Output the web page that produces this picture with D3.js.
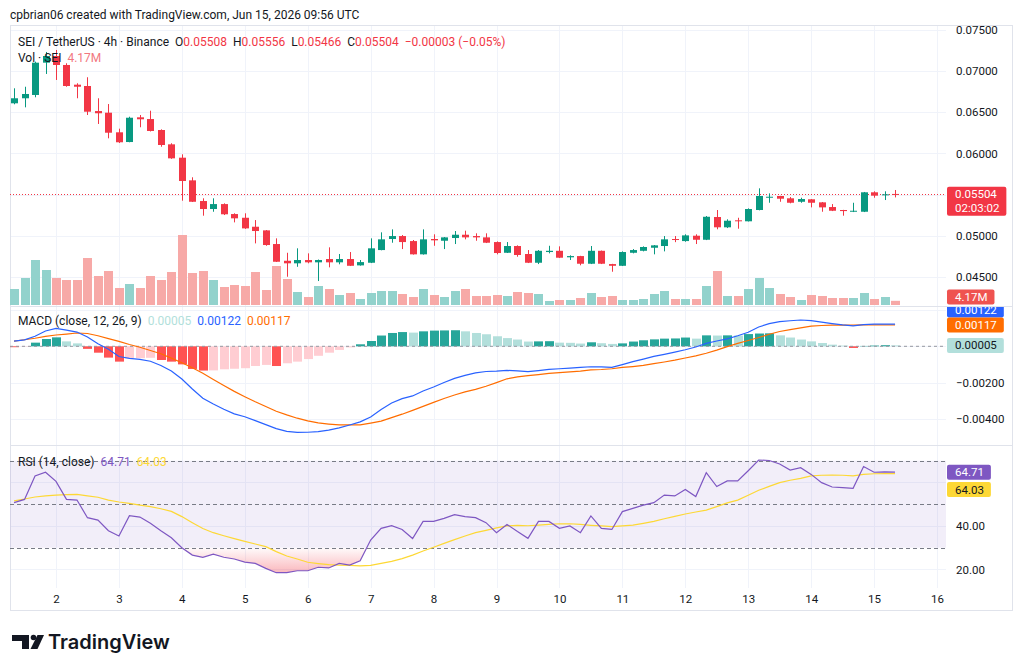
<!DOCTYPE html>
<html>
<head>
<meta charset="utf-8">
<script src="https://cdn.jsdelivr.net/npm/d3@7/dist/d3.min.js"></script>
<style>
  body { margin: 0; background: #fff; }
  svg { display: block; font-family: Roboto, "Open Sans", sans-serif; }
</style>
</head>
<body>
<div id="container"></div>
<script>
const width = 1024, height = 672,
    left = 10, plotRight = 946, frameRight = 1012,
    mainTop = 26, mainBottom = 306,
    macdTop = 307, macdBottom = 445,
    rsiTop = 446, rsiBottom = 588

// DATA (4h bars, SEI/USDT, first bar Jun 1 2026 08:00 UTC)
const firstBar = Date.UTC(2026, 5, 1, 8)
const barHours = 4
const dayTicks = [2, 3, 4, 5, 6, 7, 8, 9, 10, 11, 12, 13, 14, 15, 16]

const opens = [
  0.06608, 0.06669, 0.06709, 0.07101, 0.07182, 0.07073, 0.06834, 0.06818, 0.06514, 0.06494,
  0.06256, 0.06138, 0.06438, 0.06417, 0.06284, 0.06110, 0.05948, 0.05673, 0.05422, 0.05325,
  0.05385, 0.05264, 0.05219, 0.05110, 0.05066, 0.04900, 0.04697, 0.04666, 0.04706, 0.04678,
  0.04718, 0.04678, 0.04718, 0.04641, 0.04673, 0.04827, 0.04961, 0.04997, 0.04936, 0.04775,
  0.04961, 0.04940, 0.04973, 0.05013, 0.04997, 0.04981, 0.04924, 0.04794, 0.04876, 0.04779,
  0.04673, 0.04803, 0.04818, 0.04739, 0.04754, 0.04661, 0.04818, 0.04657, 0.04636, 0.04794,
  0.04818, 0.04855, 0.04876, 0.04961, 0.04936, 0.05001, 0.04952, 0.05228, 0.05103, 0.05188,
  0.05176, 0.05313, 0.05462, 0.05483, 0.05455, 0.05413, 0.05443, 0.05406, 0.05349, 0.05313,
  0.05292, 0.05292, 0.05528, 0.05491, 0.05508]
const highs = [
  0.06790, 0.06809, 0.07113, 0.07231, 0.07255, 0.07094, 0.06851, 0.06924, 0.06669, 0.06599,
  0.06300, 0.06445, 0.06466, 0.06518, 0.06292, 0.06123, 0.05989, 0.05710, 0.05455, 0.05455,
  0.05394, 0.05273, 0.05273, 0.05191, 0.05070, 0.04969, 0.04794, 0.04848, 0.04787, 0.04712,
  0.04860, 0.04779, 0.04803, 0.04706, 0.04969, 0.05042, 0.05078, 0.05009, 0.04949, 0.05078,
  0.05018, 0.04985, 0.05058, 0.05062, 0.05030, 0.05030, 0.04932, 0.04924, 0.04884, 0.04827,
  0.04827, 0.04879, 0.04872, 0.04763, 0.04757, 0.04876, 0.04821, 0.04660, 0.04811, 0.04839,
  0.04872, 0.04888, 0.04997, 0.04997, 0.05018, 0.05018, 0.05240, 0.05313, 0.05200, 0.05219,
  0.05333, 0.05576, 0.05515, 0.05485, 0.05470, 0.05462, 0.05446, 0.05410, 0.05385, 0.05315,
  0.05401, 0.05532, 0.05540, 0.05540, 0.05556]
const lows = [
  0.06596, 0.06559, 0.06681, 0.06964, 0.06891, 0.06809, 0.06669, 0.06466, 0.06357, 0.06183,
  0.06126, 0.06135, 0.06317, 0.06266, 0.06081, 0.05934, 0.05426, 0.05410, 0.05244, 0.05292,
  0.05252, 0.05163, 0.05084, 0.04908, 0.04879, 0.04682, 0.04503, 0.04624, 0.04666, 0.04451,
  0.04617, 0.04654, 0.04633, 0.04638, 0.04669, 0.04824, 0.04916, 0.04839, 0.04772, 0.04772,
  0.04879, 0.04839, 0.04900, 0.04957, 0.04940, 0.04912, 0.04775, 0.04791, 0.04746, 0.04669,
  0.04657, 0.04787, 0.04730, 0.04706, 0.04642, 0.04657, 0.04657, 0.04564, 0.04633, 0.04787,
  0.04811, 0.04775, 0.04811, 0.04923, 0.04928, 0.04900, 0.04948, 0.05079, 0.05094, 0.05086,
  0.05174, 0.05309, 0.05401, 0.05413, 0.05394, 0.05401, 0.05345, 0.05292, 0.05300, 0.05244,
  0.05288, 0.05288, 0.05462, 0.05434, 0.05466]
const closes = [
  0.06669, 0.06721, 0.07101, 0.07182, 0.07073, 0.06818, 0.06809, 0.06506, 0.06487, 0.06251,
  0.06135, 0.06433, 0.06414, 0.06272, 0.06102, 0.05940, 0.05665, 0.05413, 0.05325, 0.05385,
  0.05261, 0.05212, 0.05090, 0.05058, 0.04888, 0.04685, 0.04666, 0.04706, 0.04678, 0.04706,
  0.04678, 0.04718, 0.04636, 0.04681, 0.04848, 0.04957, 0.04997, 0.04924, 0.04775, 0.04957,
  0.04945, 0.04981, 0.05013, 0.04981, 0.04981, 0.04916, 0.04791, 0.04876, 0.04767, 0.04673,
  0.04818, 0.04818, 0.04734, 0.04754, 0.04661, 0.04818, 0.04661, 0.04636, 0.04803, 0.04827,
  0.04864, 0.04884, 0.04957, 0.04952, 0.05005, 0.04952, 0.05231, 0.05103, 0.05183, 0.05176,
  0.05325, 0.05483, 0.05474, 0.05450, 0.05401, 0.05446, 0.05401, 0.05345, 0.05304, 0.05300,
  0.05304, 0.05528, 0.05487, 0.05503, 0.05504]
// volume in millions of SEI
const volumes = [
  16, 27, 45, 35, 27, 25, 25, 47, 29, 34,
  17, 21, 17, 29, 25, 33, 70, 32, 34, 25,
  18, 20, 19, 33, 15, 39, 26, 13, 8, 19,
  16, 10, 12, 6, 12, 14, 14, 11, 8, 16,
  10, 8, 14, 16, 9, 9, 10, 9, 13, 12,
  11, 4, 5, 5, 7, 12, 8, 9, 5, 5,
  6, 11, 14, 6, 6, 6, 19, 34, 9, 9,
  16, 27, 17, 11, 8, 5, 10, 9, 7, 7,
  7, 12, 6, 8, 4.17]

const macdLine = [
  0.00028, 0.00035, 0.00055, 0.00084, 0.00098, 0.00089, 0.00078, 0.00051, 0.00014, -0.00016,
  -0.00056, -0.00066, -0.00072, -0.00082, -0.00105, -0.00135, -0.00179, -0.00234, -0.00285, -0.00316,
  -0.00345, -0.00370, -0.00386, -0.00407, -0.00429, -0.00451, -0.00466, -0.00472, -0.00471, -0.00467,
  -0.00459, -0.00447, -0.00431, -0.00414, -0.00387, -0.00346, -0.00311, -0.00287, -0.00272, -0.00245,
  -0.00223, -0.00198, -0.00176, -0.00159, -0.00146, -0.00138, -0.00136, -0.00132, -0.00135, -0.00139,
  -0.00133, -0.00126, -0.00123, -0.00120, -0.00116, -0.00112, -0.00113, -0.00115, -0.00100, -0.00084,
  -0.00070, -0.00055, -0.00044, -0.00032, -0.00019, -0.00004, 0.00016, 0.00029, 0.00041, 0.00058,
  0.00077, 0.00106, 0.00124, 0.00135, 0.00140, 0.00144, 0.00141, 0.00132, 0.00124, 0.00117,
  0.00112, 0.00119, 0.00121, 0.00122, 0.00122]
const signalLine = [
  0.00028, 0.00036, 0.00044, 0.00054, 0.00062, 0.00067, 0.00073, 0.00070, 0.00058, 0.00042,
  0.00027, 0.00010, -0.00005, -0.00023, -0.00041, -0.00065, -0.00090, -0.00118, -0.00148, -0.00182,
  -0.00215, -0.00247, -0.00276, -0.00304, -0.00330, -0.00356, -0.00376, -0.00394, -0.00409, -0.00420,
  -0.00426, -0.00431, -0.00431, -0.00431, -0.00421, -0.00410, -0.00391, -0.00372, -0.00351, -0.00329,
  -0.00307, -0.00286, -0.00267, -0.00250, -0.00236, -0.00219, -0.00199, -0.00178, -0.00168, -0.00161,
  -0.00155, -0.00148, -0.00144, -0.00140, -0.00136, -0.00129, -0.00127, -0.00123, -0.00116, -0.00111,
  -0.00105, -0.00095, -0.00086, -0.00076, -0.00064, -0.00052, -0.00038, -0.00021, -0.00002, 0.00016,
  0.00032, 0.00048, 0.00066, 0.00081, 0.00091, 0.00101, 0.00111, 0.00114, 0.00116, 0.00116,
  0.00116, 0.00117, 0.00117, 0.00117, 0.00117]
const histogram = [
  -0.00005, -0.00002, 0.00020, 0.00040, 0.00049, 0.00027, 0.00016, -0.00014, -0.00035, -0.00062,
  -0.00084, -0.00066, -0.00065, -0.00063, -0.00075, -0.00084, -0.00099, -0.00124, -0.00133, -0.00132,
  -0.00126, -0.00123, -0.00120, -0.00108, -0.00102, -0.00108, -0.00093, -0.00084, -0.00070, -0.00052,
  -0.00035, -0.00020, -0.00006, 0.00011, 0.00029, 0.00059, 0.00073, 0.00078, 0.00075, 0.00082,
  0.00086, 0.00087, 0.00088, 0.00082, 0.00073, 0.00066, 0.00055, 0.00045, 0.00037, 0.00026,
  0.00027, 0.00028, 0.00020, 0.00019, 0.00015, 0.00022, 0.00017, 0.00013, 0.00016, 0.00026,
  0.00033, 0.00038, 0.00042, 0.00043, 0.00048, 0.00042, 0.00060, 0.00059, 0.00060, 0.00059,
  0.00067, 0.00070, 0.00071, 0.00060, 0.00048, 0.00037, 0.00027, 0.00018, 0.00009, 0.00004,
  -0.00009, 0.00002, 0.00004, 0.00006, 0.00005]

const rsiLine = [
  50.7, 52.2, 63.0, 64.7, 60.5, 52.2, 51.9, 43.8, 42.7, 37.8,
  35.4, 44.7, 44.1, 41.2, 37.8, 34.6, 30.0, 26.6, 25.6, 27.0,
  25.6, 24.8, 23.4, 22.8, 20.5, 18.5, 18.5, 19.4, 19.4, 21.0,
  20.7, 22.8, 22.0, 24.0, 33.5, 38.9, 40.1, 38.4, 34.2, 42.1,
  42.1, 43.5, 45.2, 44.3, 43.8, 41.5, 36.9, 40.7, 37.4, 34.3,
  42.1, 42.1, 38.9, 40.0, 36.9, 44.6, 38.9, 38.4, 46.6, 48.1,
  49.6, 50.7, 54.2, 53.8, 56.8, 53.5, 64.5, 58.1, 60.7, 60.7,
  65.4, 70.3, 70.1, 68.5, 65.7, 66.8, 63.7, 59.9, 57.9, 57.6,
  57.3, 67.3, 64.7, 64.9, 64.71]
const rsiMA = [
  51.5, 52.4, 53.3, 53.8, 54.2, 54.4, 54.5, 53.8, 53.2, 51.9,
  51.0, 50.4, 49.6, 48.9, 47.9, 46.7, 44.3, 41.5, 38.8, 36.9,
  35.5, 34.2, 32.9, 31.7, 30.5, 28.2, 26.2, 24.8, 23.3, 22.7,
  22.2, 22.0, 21.9, 21.6, 21.9, 22.8, 23.7, 25.0, 26.6, 28.5,
  30.2, 32.0, 33.7, 35.4, 36.9, 38.0, 39.1, 40.0, 40.3, 40.1,
  40.4, 40.7, 41.0, 41.0, 40.7, 40.3, 40.0, 39.7, 40.0, 40.4,
  41.2, 42.1, 43.3, 44.4, 45.5, 46.4, 47.3, 48.9, 50.6, 51.9,
  54.1, 56.4, 58.2, 59.9, 61.0, 61.9, 63.0, 63.3, 63.4, 63.3,
  63.0, 63.7, 64.0, 64.1, 64.03]

// grid levels, and the levels whose labels are not covered by value tags
const priceTicks = [0.045, 0.050, 0.055, 0.060, 0.065, 0.070, 0.075]
const priceLabels = [0.045, 0.050, 0.060, 0.065, 0.070, 0.075]
const macdTicks = [0.002, 0, -0.002, -0.004]
const macdLabels = [-0.002, -0.004]
const rsiTicks = [20, 40, 60]
const rsiLabels = [20, 40]
const rsiBands = [70, 50, 30]

const bars = closes.map((c, i) => ({
    t: new Date(firstBar + i * barHours * 3600e3),
    o: opens[i], h: highs[i], l: lows[i], c: c, v: volumes[i],
    macd: macdLine[i], signal: signalLine[i], hist: histogram[i],
    prevHist: i > 0 ? histogram[i - 1] : 0,
    rsi: rsiLine[i], rsiMa: rsiMA[i]
}))
const last = bars[bars.length - 1]

/**SCALES*/
const xScale = d3.scaleUtc()
    .domain([new Date(Date.UTC(2026, 5, 2)), new Date(Date.UTC(2026, 5, 16))])
    .range([56, 937])

const yPrice = d3.scaleLinear().domain([0.045, 0.075]).range([277, 29.8])
const yVol = d3.scaleLinear().domain([0, 70]).range([305, 235])
const yMacd = d3.scaleLinear().domain([-0.004, 0.002]).range([419.3, 309.8])
const yRsi = d3.scaleLinear().domain([30, 70]).range([547.7, 460.7])

const up = "#089981", down = "#f23645"
const cx = d => Math.round(xScale(d.t))

/*HTML Elements */
const svg = d3.select("#container")
    .append("svg")
    .attr("width", width)
    .attr("height", height)

svg.append("rect").attr("width", width).attr("height", height).attr("fill", "#fff")

const defs = svg.append("defs")
function clip(id, x, y, w, h) {
    defs.append("clipPath").attr("id", id)
        .append("rect").attr("x", x).attr("y", y).attr("width", w).attr("height", h)
}
clip("clipMain", left, mainTop, plotRight - left, mainBottom - mainTop)
clip("clipMacd", left, macdTop, plotRight - left, macdBottom - macdTop)
clip("clipRsi", left, rsiTop, plotRight - left, rsiBottom - rsiTop)
clip("clipOs", left, yRsi(30), plotRight - left, rsiBottom - yRsi(30))
clip("clipAxisMain", plotRight, mainTop, 70, mainBottom - mainTop)
clip("clipAxisMacd", plotRight, macdTop, 70, macdBottom - macdTop)
clip("clipAxisRsi", plotRight, rsiTop, 70, rsiBottom - rsiTop)

const grad = defs.append("linearGradient").attr("id", "osFill")
    .attr("gradientUnits", "userSpaceOnUse")
    .attr("x1", 0).attr("x2", 0).attr("y1", yRsi(30)).attr("y2", yRsi(10))
grad.append("stop").attr("offset", 0).attr("stop-color", "#f23645").attr("stop-opacity", 0.02)
grad.append("stop").attr("offset", 1).attr("stop-color", "#f23645").attr("stop-opacity", 0.6)

//GRID
const grid = svg.append("g").attr("stroke", "#f0f3fa").attr("shape-rendering", "crispEdges")
const dayDates = dayTicks.map(d => new Date(Date.UTC(2026, 5, d)))
grid.selectAll("line.v").data(dayDates).join("line")
    .attr("x1", d => Math.round(xScale(d)) + 0.5).attr("x2", d => Math.round(xScale(d)) + 0.5)
    .attr("y1", mainTop).attr("y2", rsiBottom)
grid.selectAll("line.p").data(priceTicks).join("line")
    .attr("x1", left).attr("x2", plotRight)
    .attr("y1", d => Math.round(yPrice(d)) + 0.5).attr("y2", d => Math.round(yPrice(d)) + 0.5)
grid.selectAll("line.m").data(macdTicks).join("line")
    .attr("x1", left).attr("x2", plotRight)
    .attr("y1", d => Math.round(yMacd(d)) + 0.5).attr("y2", d => Math.round(yMacd(d)) + 0.5)
grid.selectAll("line.r").data(rsiTicks).join("line")
    .attr("x1", left).attr("x2", plotRight)
    .attr("y1", d => Math.round(yRsi(d)) + 0.5).attr("y2", d => Math.round(yRsi(d)) + 0.5)

//FRAME + PANE SEPARATORS
const frame = svg.append("g").attr("stroke", "#e0e3eb").attr("fill", "none").attr("shape-rendering", "crispEdges")
frame.append("rect").attr("x", left + 0.5).attr("y", 25.5).attr("width", frameRight - left).attr("height", 585)
frame.append("line").attr("x1", left).attr("x2", frameRight).attr("y1", mainBottom + 0.5).attr("y2", mainBottom + 0.5)
frame.append("line").attr("x1", left).attr("x2", frameRight).attr("y1", macdBottom + 0.5).attr("y2", macdBottom + 0.5)

/** MAIN PANE */
const main = svg.append("g").attr("clip-path", "url(#clipMain)")

main.selectAll("rect.vol").data(bars).join("rect")
    .attr("x", d => cx(d) - 4)
    .attr("width", 9)
    .attr("y", d => yVol(d.v))
    .attr("height", d => yVol(0) - yVol(d.v))
    .attr("fill", d => d.c >= d.o ? "#92d2cc" : "#f7a9a7")

main.append("line")
    .attr("x1", left).attr("x2", plotRight)
    .attr("y1", Math.round(yPrice(last.c)) + 0.5).attr("y2", Math.round(yPrice(last.c)) + 0.5)
    .attr("stroke", down).attr("stroke-dasharray", "1 2")

const candle = main.selectAll("g.candle").data(bars).join("g")
candle.append("line")
    .attr("x1", d => cx(d) + 0.5).attr("x2", d => cx(d) + 0.5)
    .attr("y1", d => yPrice(d.h)).attr("y2", d => yPrice(d.l))
    .attr("stroke", d => d.c >= d.o ? up : down)
candle.append("rect")
    .attr("x", d => cx(d) - 3)
    .attr("width", 7)
    .attr("y", d => yPrice(Math.max(d.o, d.c)))
    .attr("height", d => Math.max(1, Math.abs(yPrice(d.o) - yPrice(d.c))))
    .attr("fill", d => d.c >= d.o ? up : down)

/** MACD PANE */
const macd = svg.append("g").attr("clip-path", "url(#clipMacd)")
macd.selectAll("rect").data(bars).join("rect")
    .attr("x", d => cx(d) - 4)
    .attr("width", 9)
    .attr("y", d => Math.min(yMacd(0), yMacd(d.hist)))
    .attr("height", d => Math.abs(yMacd(0) - yMacd(d.hist)))
    .attr("fill", d => d.hist >= 0
        ? (d.hist > d.prevHist ? "#26a69a" : "#b2dfdb")
        : (d.hist < d.prevHist ? "#ff5252" : "#ffcdd2"))
macd.append("line")
    .attr("x1", left).attr("x2", plotRight)
    .attr("y1", yMacd(0)).attr("y2", yMacd(0))
    .attr("stroke", "#9598a1").attr("stroke-dasharray", "3 3")
macd.append("path").datum(bars)
    .attr("fill", "none").attr("stroke", "#ff6d00").attr("stroke-width", 1.2)
    .attr("d", d3.line().x(d => xScale(d.t)).y(d => yMacd(d.signal)))
macd.append("path").datum(bars)
    .attr("fill", "none").attr("stroke", "#2962ff").attr("stroke-width", 1.2)
    .attr("d", d3.line().x(d => xScale(d.t)).y(d => yMacd(d.macd)))

/** RSI PANE */
const rsi = svg.append("g").attr("clip-path", "url(#clipRsi)")
rsi.append("rect")
    .attr("x", left).attr("width", plotRight - left)
    .attr("y", yRsi(70)).attr("height", yRsi(30) - yRsi(70))
    .attr("fill", "#7e57c2").attr("fill-opacity", 0.1)
rsi.append("path").datum(bars)
    .attr("clip-path", "url(#clipOs)")
    .attr("fill", "url(#osFill)")
    .attr("d", d3.area().x(d => xScale(d.t)).y0(yRsi(30)).y1(d => yRsi(d.rsi)))
rsi.selectAll("line.band").data(rsiBands).join("line")
    .attr("x1", left).attr("x2", plotRight)
    .attr("y1", d => Math.round(yRsi(d)) + 0.5).attr("y2", d => Math.round(yRsi(d)) + 0.5)
    .attr("stroke", "#787b86").attr("stroke-dasharray", "4 3")
rsi.append("path").datum(bars)
    .attr("fill", "none").attr("stroke", "#fdd835").attr("stroke-width", 1.2)
    .attr("d", d3.line().x(d => xScale(d.t)).y(d => yRsi(d.rsiMa)))
rsi.append("path").datum(bars)
    .attr("fill", "none").attr("stroke", "#7e57c2").attr("stroke-width", 1.2)
    .attr("d", d3.line().x(d => xScale(d.t)).y(d => yRsi(d.rsi)))

/** AXES */
function rightAxis(scale, ticks, fmt, clipId) {
    svg.append("g")
        .attr("clip-path", `url(#${clipId})`)
        .append("g")
        .attr("transform", "translate(956,0)")
        .call(d3.axisRight(scale).tickValues(ticks).tickFormat(fmt).tickSize(0).tickPadding(0))
        .call(g => g.select(".domain").remove())
        .call(g => g.selectAll("text").attr("fill", "#131722").attr("font-size", 11.5)
            .attr("font-family", "Roboto, sans-serif"))
}
rightAxis(yPrice, priceLabels, d3.format(".5f"), "clipAxisMain")
rightAxis(yMacd, macdLabels, d3.format(".5f"), "clipAxisMacd")
rightAxis(yRsi, rsiLabels, d3.format(".2f"), "clipAxisRsi")

svg.append("g")
    .attr("transform", `translate(0,${rsiBottom})`)
    .call(d3.axisBottom(xScale).tickValues(dayDates).tickFormat(d3.utcFormat("%-d")).tickSize(0).tickPadding(7))
    .call(g => g.select(".domain").remove())
    .call(g => g.selectAll("text").attr("fill", "#131722").attr("font-size", 11.5)
        .attr("font-family", "Roboto, sans-serif"))

//VALUE TAGS ON THE SCALE
function tag(yMid, lines, bg, fg, clipId) {
    const g = svg.append("g").attr("clip-path", clipId ? `url(#${clipId})` : null)
    const h = 14 * lines.length + 1
    const rect = g.append("rect").attr("x", 947).attr("y", yMid - 7.5).attr("height", h)
        .attr("rx", 2).attr("fill", bg)
    let w = 0
    lines.forEach((s, k) => {
        const t = g.append("text").attr("x", 955).attr("y", yMid + 4 + k * 14)
            .attr("fill", fg).attr("font-size", 11.5).text(s)
        w = Math.max(w, t.node().getComputedTextLength())
    })
    rect.attr("width", w + 15)
}
tag(yPrice(last.c), ["0.05504", "02:03:02"], down, "#fff")
tag(297, ["4.17M"], "#ef5350", "#fff", "clipAxisMain")
tag(310, ["0.00122"], "#2962ff", "#fff", "clipAxisMacd")
tag(yMacd(last.signal), ["0.00117"], "#ff6d00", "#fff", "clipAxisMacd")
tag(yMacd(last.hist), ["0.00005"], "#b2dfdb", "#131722", "clipAxisMacd")
tag(yRsi(last.rsi), ["64.71"], "#7e57c2", "#fff")
tag(489.5, ["64.03"], "#fdd835", "#131722")

/** LEGENDS */
svg.append("text").attr("x", 10).attr("y", 19)
    .attr("font-size", 12).attr("fill", "#131722")
    .text("cpbrian06 created with TradingView.com, Jun 15, 2026 09:56 UTC")

const fmt5 = d3.format(".5f")
const l1 = svg.append("text").attr("x", 18).attr("y", 45.5).attr("font-size", 12).attr("fill", "#131722")
l1.append("tspan").text("SEI / TetherUS \u00b7 4h \u00b7 Binance")
;[["O", last.o], ["H", last.h], ["L", last.l], ["C", last.c]].forEach(([k, v]) => {
    l1.append("tspan").attr("dx", 6).text(k)
    l1.append("tspan").attr("fill", down).text(fmt5(v))
})
l1.append("tspan").attr("dx", 6).attr("fill", down).text("\u22120.00003 (\u22120.05%)")

const l2 = svg.append("text").attr("x", 18).attr("y", 61.5).attr("font-size", 12).attr("fill", "#131722")
l2.append("tspan").text("Vol \u00b7 SEI")
l2.append("tspan").attr("dx", 6).attr("fill", "#f2787f").text("4.17M")

const l3 = svg.append("text").attr("x", 18).attr("y", 325).attr("font-size", 12).attr("fill", "#131722")
l3.append("tspan").text("MACD (close, 12, 26, 9)")
l3.append("tspan").attr("dx", 6).attr("fill", "#b2dfdb").text("0.00005")
l3.append("tspan").attr("dx", 6).attr("fill", "#2962ff").text("0.00122")
l3.append("tspan").attr("dx", 6).attr("fill", "#ff6d00").text("0.00117")

const l4 = svg.append("text").attr("x", 18).attr("y", 465.5).attr("font-size", 12).attr("fill", "#131722")
l4.append("tspan").text("RSI (14, close)")
l4.append("tspan").attr("dx", 6).attr("fill", "#7e57c2").text("64.71")
l4.append("tspan").attr("dx", 6).attr("fill", "#fdd835").text("64.03")

/** TRADINGVIEW LOGO */
const logo = svg.append("g").attr("fill", "#131722")
logo.append("path").attr("d", "M12,635 H29 V649 H22 V641 H12 Z")
logo.append("circle").attr("cx", 33.5).attr("cy", 637.5).attr("r", 2.8)
logo.append("path").attr("d", "M37.5,635 H44 L37.5,649 H30.5 Z")
logo.append("text").attr("x", 48).attr("y", 649)
    .attr("font-family", "Inter, Roboto, sans-serif").attr("font-weight", 600)
    .attr("font-size", 20)
    .text("TradingView")
</script>
</body>
</html>
